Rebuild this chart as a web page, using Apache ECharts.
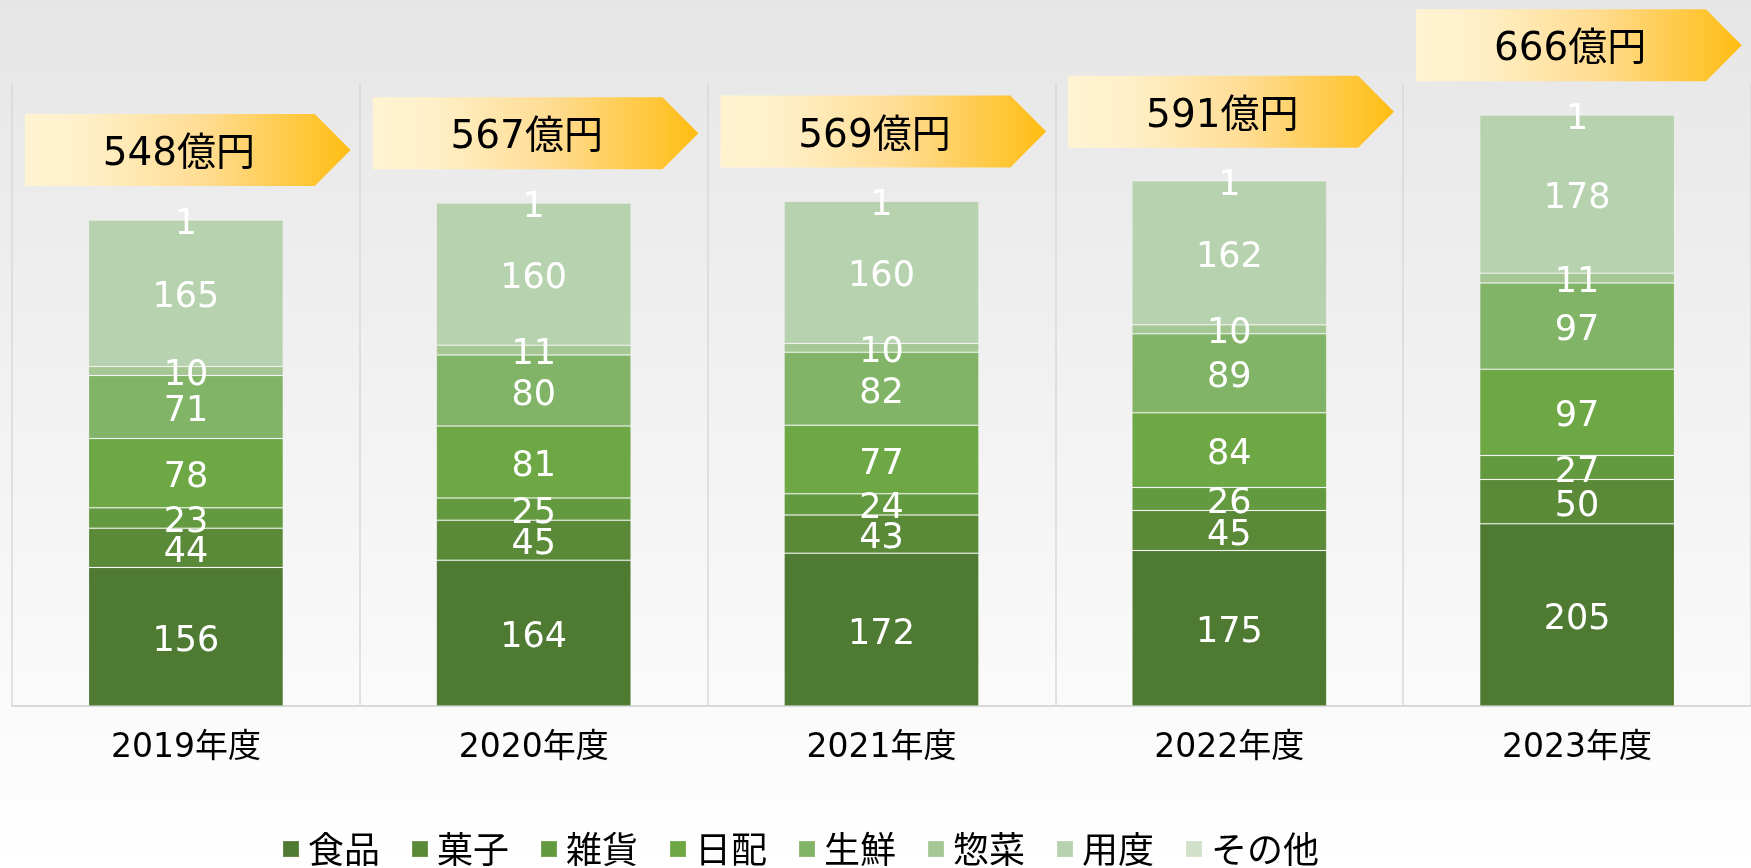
<!DOCTYPE html>
<html>
<head>
<meta charset="utf-8">
<script src="https://cdn.jsdelivr.net/npm/echarts@6/dist/echarts.min.js"></script>
<style>
html,body{margin:0;padding:0;width:1751px;height:868px;overflow:hidden;}
#chart{width:1751px;height:868px;}
</style>
</head>
<body>
<div id="chart"></div>
<script>
const categories = ['2019年度','2020年度','2021年度','2022年度','2023年度'];
const seriesNames = ['食品','菓子','雑貨','日配','生鮮','惣菜','用度','その他'];
const shokuhin = [156,164,172,175,205];
const kashi    = [44,45,43,45,50];
const zakka    = [23,25,24,26,27];
const nippai   = [78,81,77,84,97];
const sensen   = [71,80,82,89,97];
const souzai   = [10,11,10,10,11];
const youdo    = [165,160,160,162,178];
const sonota   = [1,1,1,1,1];
const totals   = [548,567,569,591,666];
const colors = ['#4e7a31','#5a8a38','#639a3f','#6da844','#82b467','#a4c793','#b7d2ae','#d0e0c9'];

const values = [shokuhin,kashi,zakka,nippai,sensen,souzai,youdo,sonota];
const FONT = "'Noto Sans CJK JP', 'Noto Sans', sans-serif";
const NUMFONT = "'DejaVu Sans', 'Noto Sans CJK JP', sans-serif";

const chart = echarts.init(document.getElementById('chart'));

const barSeries = seriesNames.map((name,k)=>({
  name: name,
  type: 'bar',
  stack: 'total',
  barWidth: '56%',
  data: values[k],
  itemStyle: {color: colors[k], borderColor: 'rgba(255,255,255,0.12)', borderWidth: 1},
  label: {show: true, position: 'inside', offset: [0,5], color: '#ffffff', fontSize: 35, fontFamily: NUMFONT},
  emphasis: {disabled: true}
}));

const arrowSeries = {
  name: 'total',
  type: 'custom',
  clip: false,
  z: 10,
  data: totals.map((v,i)=>[i,v]),
  renderItem: function(params, api){
    const p = api.coord([api.value(0), api.value(1)]);
    const w = api.size([1,0])[0];
    const cx = p[0];
    const h = 72;
    const bottom = p[1] - 33;
    const top = bottom - h;
    const left = cx - 0.463*w;
    const rectEnd = cx + 0.3705*w;
    const tip = cx + 0.4735*w;
    return {
      type: 'group',
      children: [
        {
          type: 'polygon',
          shape: {points: [[left,top],[rectEnd,top],[tip,top+h/2],[rectEnd,bottom],[left,bottom]]},
          style: {
            fill: {type:'linear', x:0, y:0, x2:1, y2:0, colorStops:[
              {offset:0, color:'#fff3d2'},
              {offset:0.18, color:'#fff0c9'},
              {offset:0.55, color:'#ffdc92'},
              {offset:1, color:'#ffbd12'}
            ]}
          }
        },
        {
          type: 'text',
          style: {
            text: api.value(1) + '億円',
            x: cx - 7, y: top + h/2 + 5,
            align: 'center', verticalAlign: 'middle',
            fontSize: 39, fontFamily: NUMFONT, fill: '#000000'
          }
        }
      ]
    };
  }
};

chart.setOption({
  backgroundColor: {type:'linear', x:0, y:0, x2:0, y2:1, colorStops:[
    {offset:0, color:'#e6e6e6'},
    {offset:1, color:'#ffffff'}
  ]},
  animation: false,
  color: colors,
  grid: {left: 12, right: -8, top: 84, bottom: 162},
  legend: {
    data: seriesNames,
    left: 282, top: 831,
    padding: 0,
    icon: 'rect',
    itemWidth: 16, itemHeight: 16,
    itemGap: 31,
    textStyle: {fontSize: 36, fontFamily: FONT, color: '#000000', padding: [0,0,0,4]}
  },
  xAxis: {
    type: 'category',
    data: categories,
    axisLine: {show: true, lineStyle: {color: '#d9d9d9', width: 2}},
    axisTick: {show: false},
    splitLine: {show: true, lineStyle: {color: '#d9d9d9', width: 1.5}},
    axisLabel: {fontSize: 33, fontFamily: NUMFONT, color: '#000000', margin: 26}
  },
  yAxis: {
    type: 'value',
    min: 0, max: 700,
    show: false,
    splitLine: {show: false}
  },
  series: barSeries.concat([arrowSeries])
});
</script>
</body>
</html>
